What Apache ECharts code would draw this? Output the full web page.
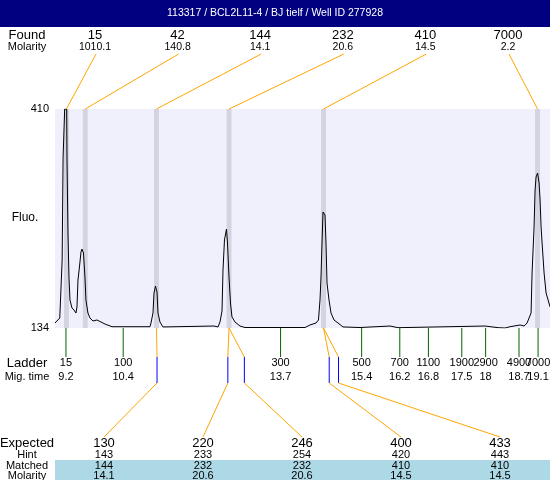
<!DOCTYPE html>
<html>
<head>
<meta charset="utf-8">
<script src="https://cdn.jsdelivr.net/npm/echarts@6/dist/echarts.min.js"></script>
<style>html,body{margin:0;padding:0;background:#fff}#c{width:550px;height:480px}</style>
</head>
<body>
<div id="c"></div>
<script>
// ---- data ----
const titleText = '113317 / BCL2L11-4 / BJ tielf / Well ID 277928';
const traceTime = [8.97,9.07,9.12,9.14,9.173,9.215,9.221,9.242,9.263,9.284,9.326,9.368,9.41,9.431,9.452,9.483,9.515,9.536,9.567,9.598,9.619,9.661,9.703,9.766,9.85,9.934,10.018,10.165,10.962,10.983,11.025,11.046,11.077,11.109,11.13,11.171,11.234,12.304,12.388,12.43,12.472,12.493,12.524,12.566,12.587,12.619,12.65,12.681,12.744,12.849,12.954,14.212,14.317,14.443,14.495,14.527,14.548,14.569,14.59,14.632,14.653,14.674,14.716,14.758,14.821,14.905,15.009,15.366,15.995,16.163,17.988,18.26,18.407,18.512,18.722,18.806,18.869,18.953,18.974,19.016,19.037,19.058,19.09,19.121,19.142,19.163,19.184,19.226,19.268,19.31,19.352];
const traceFluo = [140.3,146.6,219.7,349.5,410,410,349.5,253.7,198.3,169.3,159.2,156.7,152.9,160.5,194.5,210.9,229.8,233.5,228.5,198.3,169.3,152.9,146.6,142.8,144.1,141.6,139.0,135.6,135.6,140.3,152.9,178.1,186.9,179.4,152.9,141.6,135.3,136.5,135.3,141.6,155.4,207.1,244.9,258.7,241.1,198.3,165.5,147.9,141.6,136.5,134.6,134.6,137.8,140.3,144.1,169.3,198.3,241.1,280.2,276.4,241.1,190.7,169.3,152.9,144.1,140.3,135.3,134.6,136.5,134.4,136.5,134.4,134.0,135.6,137.8,136.5,140.3,152.9,203.3,261.3,307.9,324.3,329.3,316.7,295.3,261.3,241.1,203.3,178.1,169.3,160.5];
const foundSizes = ['15','42','144','232','410','7000'];
const foundMolarity = ['1010.1','140.8','14.1','20.6','14.5','2.2'];
const foundTimes = [9.21,9.605,11.098,12.619,14.601,19.089];
const ladderSizes = [15,100,300,500,700,1100,1900,2900,4900,7000];
const ladderTimes = ['9.2','10.4','13.7','15.4','16.2','16.8','17.5','18','18.7','19.1'];
const expectedSizes = [130,220,246,400,433];
const hintSizes = [143,233,254,420,443];
const matchedSizes = [144,232,232,410,410];
const matchedMolarity = ['14.1','20.6','20.6','14.5','14.5'];
const yTicks = [134,410];

// ---- layout/style ----
const FONT = '"Liberation Sans", Arial, sans-serif';
const ORANGE = '#ffa500', BLUE = '#0000ff', GREEN = '#006400';
const gridTop = 109, gridBottomY = 328;
const halfBand = 0.052;

const chart = echarts.init(document.getElementById('c'), null, {renderer: 'canvas'});
chart.setOption({
  animation: false,
  backgroundColor: '#ffffff',
  grid: {left: 55, top: gridTop, right: 0, bottom: 480 - gridBottomY, show: true, backgroundColor: '#f0f0fc', borderWidth: 0},
  xAxis: {type: 'value', min: 8.97, max: 19.35, show: false},
  yAxis: {
    type: 'value', min: yTicks[0], max: yTicks[1],
    axisLine: {show: false}, axisTick: {show: false}, splitLine: {show: false},
    axisLabel: {customValues: yTicks, color: '#000', fontFamily: FONT, fontSize: 11, margin: 6}
  },
  series: [{
    type: 'line',
    data: traceTime.map((t, i) => [t, traceFluo[i]]),
    showSymbol: false, symbol: 'none',
    lineStyle: {color: '#000', width: 1},
    z: 5,
    markArea: {
      silent: true,
      itemStyle: {color: '#d4d4e0'},
      data: foundTimes.map(t => [{xAxis: t - halfBand}, {xAxis: t + halfBand}])
    }
  }]
});

// helpers
function px(t, v) { return chart.convertToPixel({gridIndex: 0}, [t, v]); }
function timeOfSize(s) {
  for (let i = 0; i < ladderSizes.length - 1; i++) {
    if (s >= ladderSizes[i] && s <= ladderSizes[i + 1]) {
      const a = parseFloat(ladderTimes[i]), b = parseFloat(ladderTimes[i + 1]);
      return a + (s - ladderSizes[i]) / (ladderSizes[i + 1] - ladderSizes[i]) * (b - a);
    }
  }
  return parseFloat(ladderTimes[ladderTimes.length - 1]);
}
function txt(x, y, s, size, align, color) {
  return {type: 'text', x: x, y: y, silent: true, z: 20,
    style: {text: s, fill: color || '#000', font: size + 'px ' + FONT, textAlign: align || 'center', textVerticalAlign: 'middle'}};
}
function ln(x1, y1, x2, y2, color) {
  return {type: 'line', silent: true, z: 15, shape: {x1: x1, y1: y1, x2: x2, y2: y2}, style: {stroke: color, lineWidth: 1}};
}

const g = [];
// title bar
g.push({type: 'rect', shape: {x: 0, y: 0, width: 550, height: 27}, style: {fill: '#000080'}, z: 10, silent: true});
g.push(txt(275, 13.5, titleText, 10.5, 'center', '#ffffff'));
// left labels
g.push(txt(27, 35, 'Found', 13));
g.push(txt(27, 47, 'Molarity', 11));
g.push(txt(25, 218, 'Fluo.', 12));
g.push(txt(27, 363, 'Ladder', 13));
g.push(txt(27, 377, 'Mig. time', 11));
g.push(txt(27, 443, 'Expected', 13));
g.push(txt(27, 455, 'Hint', 11));
g.push(txt(27, 465.5, 'Matched', 11));
g.push(txt(27, 475.5, 'Molarity', 11));

// found peaks header
foundSizes.forEach((s, i) => {
  const lx = 95 + 82.6 * i;
  g.push(txt(lx, 35, s, 13));
  g.push(txt(lx, 47, foundMolarity[i], 10.5));
  const p = px(foundTimes[i], yTicks[1]);
  g.push(ln(lx + 1, 54, p[0], gridTop, ORANGE));
});

// ladder
ladderSizes.forEach((s, i) => {
  const p = px(parseFloat(ladderTimes[i]), yTicks[0]);
  g.push(ln(p[0], gridBottomY, p[0], 357, GREEN));
  g.push(txt(p[0], 363, String(s), 11));
  g.push(txt(p[0], 377, ladderTimes[i], 11));
});

// table background
g.push({type: 'rect', shape: {x: 55, y: 460, width: 495, height: 20}, style: {fill: '#add8e6'}, z: 9, silent: true});

// expected peaks
expectedSizes.forEach((s, i) => {
  const ex = 104 + 99 * i;
  g.push(txt(ex, 443, String(s), 13));
  g.push(txt(ex, 455, String(hintSizes[i]), 11));
  g.push(txt(ex, 465.5, String(matchedSizes[i]), 11));
  g.push(txt(ex, 475.5, matchedMolarity[i], 11));
  const fi = foundSizes.indexOf(String(matchedSizes[i]));
  const pf = px(foundTimes[fi], yTicks[0]);
  const ph = px(timeOfSize(hintSizes[i]), yTicks[0]);
  g.push(ln(pf[0], gridBottomY, ph[0], 357, ORANGE));
  g.push(ln(ph[0], 357, ph[0], 383, BLUE));
  g.push(ln(ph[0], 383, ex, 437, ORANGE));
});

chart.setOption({graphic: g});
</script>
</body>
</html>
